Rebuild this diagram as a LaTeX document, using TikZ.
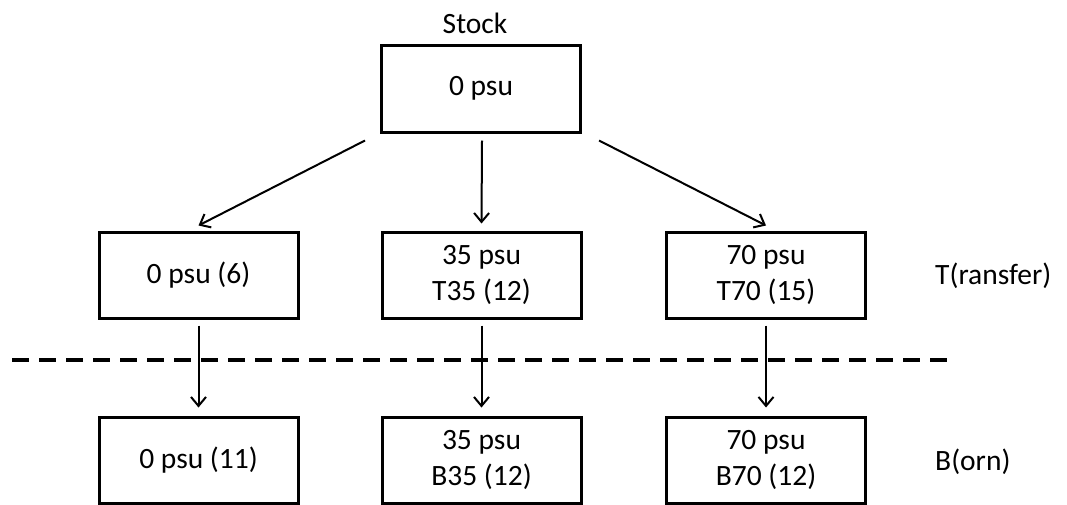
\documentclass[tikz,border=0pt]{standalone}
\usepackage{fontspec}
\setmainfont{Carlito}
\usetikzlibrary{arrows.meta,calc}
\begin{document}
\begin{tikzpicture}[x=1pt,y=-1pt,
 box/.style={draw, line width=3pt, minimum width=199pt, minimum height=86pt, inner sep=0pt, align=center, font=\fontsize{29.5}{35.7}\selectfont},
 lbl/.style={inner sep=0pt, font=\fontsize{29.5}{35.7}\selectfont},
 conn/.style={line width=2pt, -{Straight Barb[length=9pt,width=15pt,line width=2pt]}},
 sep/.style={line width=4pt, dash pattern=on 17pt off 10pt}]
\useasboundingbox (0,0) rectangle (1067,504);
\node[box, minimum height=87pt] (stock) at (481,88.5) {0 psu};
\node[lbl] (stocklbl) at (475,23) {Stock};
\node[box] (t0) at (198.5,275) {0 psu (6)};
\node[box] (t35) at (481.5,275) {35 psu\\T35 (12)};
\node[box] (t70) at (766,275) {70 psu\\T70 (15)};
\node[box] (b0) at (198.5,460) {0 psu (11)};
\node[box] (b35) at (481.5,460) {35 psu\\B35 (12)};
\node[box] (b70) at (766,460) {70 psu\\B70 (12)};
\node[lbl, anchor=west] (tl) at (935,276) {T(ransfer)};
\node[lbl, anchor=west] (bl) at (935,462) {B(orn)};
\draw[conn] ($(stock.south west)+(-15,7)$) -- ($(t0.north)+(0,-5)$);
\draw[conn] ($(stock.south)+(1,7)$) -- ($(t35.north)+(0,-7)$);
\draw[conn] ($(stock.south east)+(17,7)$) -- ($(t70.north)+(0,-5)$);
\draw[conn] ($(t0.south)+(0,6)$) -- ($(b0.north)+(0,-8)$);
\draw[conn] ($(t35.south)+(0,6)$) -- ($(b35.north)+(0,-8)$);
\draw[conn] ($(t70.south)+(0,6)$) -- ($(b70.north)+(0,-8)$);
\coordinate (sepL) at (12,360);
\coordinate (sepR) at (951,360);
\draw[sep] (sepL) -- (sepR);
\end{tikzpicture}
\end{document}
